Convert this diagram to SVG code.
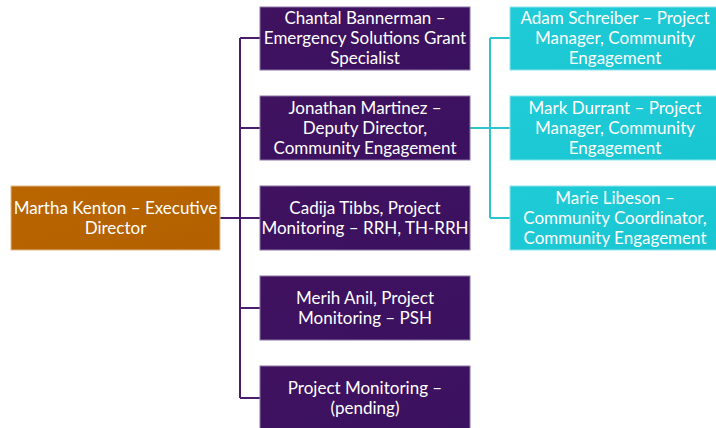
<svg xmlns="http://www.w3.org/2000/svg" width="716" height="428" viewBox="0 0 716 428">
<defs>
<linearGradient id="gp" x1="0" y1="0" x2="1" y2="1"><stop offset="0" stop-color="#40125F"/><stop offset="1" stop-color="#3A1160"/></linearGradient>
<linearGradient id="go" x1="0" y1="0" x2="1" y2="1"><stop offset="0" stop-color="#B96600"/><stop offset="1" stop-color="#B26000"/></linearGradient>
<linearGradient id="gt" x1="0" y1="0" x2="1" y2="1"><stop offset="0" stop-color="#1FCBD6"/><stop offset="1" stop-color="#18C6D2"/></linearGradient>
</defs>
<style>
.p{fill:url(#gp);stroke:#8C76A4;stroke-width:1}
.o{fill:url(#go);stroke:#E2B98A;stroke-width:1}
.t{fill:url(#gt);stroke:#8FE6EC;stroke-width:1}
text{font-family:Lato,"Open Sans","Liberation Sans",sans-serif;font-size:17px;fill:#FFFFFF;text-anchor:middle}
.cp{stroke:#4A1D6C;stroke-width:2;fill:none}
.ct{stroke:#2FC3CE;stroke-width:2;fill:none}
</style>
<g id="connectors">
<path class="cp" d="M220,218 H260 M240,38 V398 M240,38 H260 M240,128 H260 M240,308 H260 M240,398 H260"/>
<path class="ct" d="M470,128 H510 M490,38 V218 M490,38 H510 M490,218 H510"/>
</g>
<g id="martha"><rect class="o" x="11" y="186" width="209" height="64"/><text x="115.5" y="214">Martha Kenton – Executive</text><text x="115.5" y="234">Director</text></g>
<g id="chantal"><rect class="p" x="260" y="7" width="210" height="63"/><text x="365" y="24">Chantal Bannerman –</text><text x="365" y="44">Emergency Solutions Grant</text><text x="365" y="64">Specialist</text></g>
<g id="jonathan"><rect class="p" x="260" y="96" width="210" height="64"/><text x="365" y="114">Jonathan Martinez –</text><text x="365" y="134">Deputy Director,</text><text x="365" y="154">Community Engagement</text></g>
<g id="cadija"><rect class="p" x="260" y="186" width="210" height="64"/><text x="365" y="214">Cadija Tibbs, Project</text><text x="365" y="234">Monitoring – RRH, TH-RRH</text></g>
<g id="merih"><rect class="p" x="260" y="276" width="210" height="64"/><text x="365" y="304">Merih Anil, Project</text><text x="365" y="324">Monitoring – PSH</text></g>
<g id="pending"><rect class="p" x="260" y="366" width="210" height="64"/><text x="365" y="394">Project Monitoring –</text><text x="365" y="414">(pending)</text></g>
<g id="adam"><rect class="t" x="510" y="7" width="210" height="63"/><text x="615" y="24">Adam Schreiber – Project</text><text x="615" y="44">Manager, Community</text><text x="615" y="64">Engagement</text></g>
<g id="mark"><rect class="t" x="510" y="96" width="210" height="64"/><text x="615" y="114">Mark Durrant – Project</text><text x="615" y="134">Manager, Community</text><text x="615" y="154">Engagement</text></g>
<g id="marie"><rect class="t" x="510" y="186" width="210" height="64"/><text x="615" y="204">Marie Libeson –</text><text x="615" y="224">Community Coordinator,</text><text x="615" y="244">Community Engagement</text></g>
</svg>
